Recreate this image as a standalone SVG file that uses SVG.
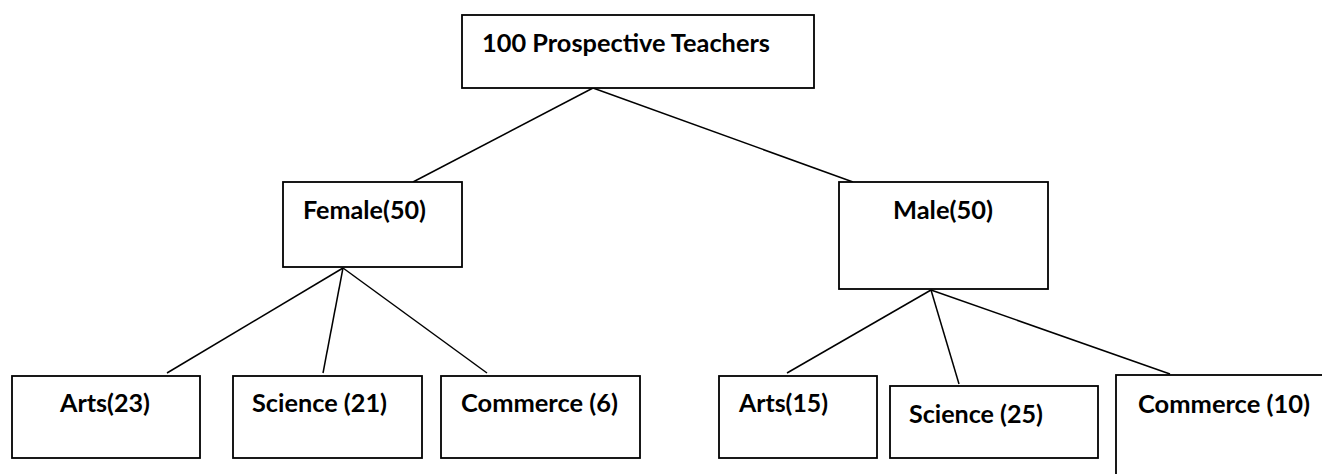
<svg xmlns="http://www.w3.org/2000/svg" width="1322" height="474" viewBox="0 0 1322 474">
<style>
.box{fill:#ffffff;stroke:#000000;stroke-width:1.8}
.lbl{font-family:Lato,"Liberation Sans",sans-serif;font-weight:bold;font-size:24px;fill:#000000}
.conn line{stroke:#000000;stroke-width:1.5}
</style>
<rect width="1322" height="474" fill="#ffffff"/>
<g id="connectors" class="conn">
<line x1="593" y1="88" x2="413" y2="182"/>
<line x1="593" y1="88" x2="853" y2="182"/>
<line x1="343" y1="268" x2="167" y2="373"/>
<line x1="343" y1="268" x2="323" y2="373"/>
<line x1="343" y1="268" x2="487" y2="373"/>
<line x1="931" y1="290" x2="787" y2="373"/>
<line x1="931" y1="290" x2="959" y2="384"/>
<line x1="931" y1="290" x2="1170" y2="374"/>
</g>
<g id="root">
<rect class="box" x="462" y="15" width="352" height="73"/>
<text class="lbl" x="482" y="52" textLength="288" lengthAdjust="spacingAndGlyphs">100 Prospective Teachers</text>
</g>
<g id="female">
<rect class="box" x="283" y="182" width="179" height="85"/>
<text class="lbl" x="303" y="219" textLength="123" lengthAdjust="spacingAndGlyphs">Female(50)</text>
</g>
<g id="male">
<rect class="box" x="839" y="182" width="209" height="107"/>
<text class="lbl" x="893" y="219" textLength="100" lengthAdjust="spacingAndGlyphs">Male(50)</text>
</g>
<g id="female-arts">
<rect class="box" x="12" y="376" width="188" height="82"/>
<text class="lbl" x="60" y="412" textLength="90" lengthAdjust="spacingAndGlyphs">Arts(23)</text>
</g>
<g id="female-science">
<rect class="box" x="233" y="376" width="189" height="82"/>
<text class="lbl" x="252" y="412" textLength="135" lengthAdjust="spacingAndGlyphs">Science (21)</text>
</g>
<g id="female-commerce">
<rect class="box" x="441" y="376" width="199" height="82"/>
<text class="lbl" x="461" y="412" textLength="157" lengthAdjust="spacingAndGlyphs">Commerce (6)</text>
</g>
<g id="male-arts">
<rect class="box" x="719" y="376" width="158" height="82"/>
<text class="lbl" x="739" y="412" textLength="89" lengthAdjust="spacingAndGlyphs">Arts(15)</text>
</g>
<g id="male-science">
<rect class="box" x="890" y="386" width="208" height="72"/>
<text class="lbl" x="909" y="423" textLength="134" lengthAdjust="spacingAndGlyphs">Science (25)</text>
</g>
<g id="male-commerce">
<rect class="box" x="1116" y="375" width="260" height="150"/>
<text class="lbl" x="1138" y="413" textLength="172" lengthAdjust="spacingAndGlyphs">Commerce (10)</text>
</g>
</svg>
